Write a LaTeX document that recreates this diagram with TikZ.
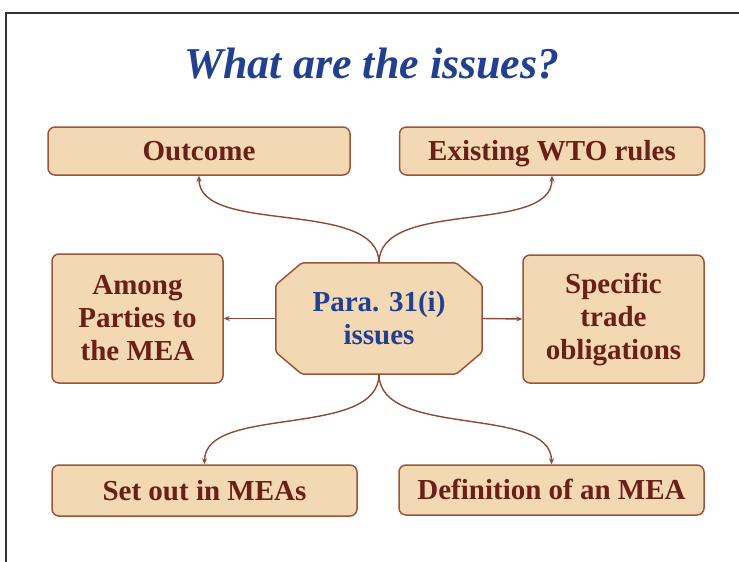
\documentclass[tikz,border=0pt]{standalone}
\usepackage{fontspec}
\setmainfont{Liberation Serif}
\usetikzlibrary{arrows.meta,calc,backgrounds}
\definecolor{boxfill}{HTML}{F3D8B4}
\definecolor{boxline}{HTML}{9A553A}
\definecolor{boxtext}{HTML}{6B2016}
\definecolor{titleblue}{HTML}{22408F}
\definecolor{connline}{HTML}{8A4A36}
\definecolor{framegray}{HTML}{333333}
\tikzset{
  box/.style={draw=boxline, line width=1.5pt, fill=boxfill, rounded corners=7pt,
    text=boxtext, font=\fontsize{29}{33}\selectfont\bfseries, align=center, inner sep=0pt},
  oneline/.style={text height=19pt, text depth=0pt},
  hub/.style={inner sep=0pt, text=titleblue, font=\fontsize{29}{33}\selectfont\bfseries,
    align=center, minimum width=206pt, minimum height=111pt},
  hubshape/.style={draw=boxline, line width=1.5pt, fill=boxfill, rounded corners=2pt},
  conn/.style={draw=connline, line width=1.4pt, -{Stealth[length=6pt,width=5pt]}},
  frameline/.style={draw=framegray, line width=1.5pt}
}
\begin{document}
\begin{tikzpicture}[x=1pt,y=-1pt]
\useasboundingbox (0,0) rectangle (739,562);
% frame
\coordinate (f1) at (6,562);
\coordinate (f2) at (6,13);
\coordinate (f3) at (739,13);
\draw[frameline] (f1) -- (f2) -- (f3);
% title
\node[text=titleblue, font=\fontsize{44}{48}\selectfont\bfseries\itshape] (title) at (372,64) {What are the issues?};
% boxes
\node[box, oneline, minimum width=302pt, minimum height=48pt] (o) at (199,151) {Outcome};
\node[box, oneline, minimum width=305pt, minimum height=48pt] (e) at (552,151) {Existing WTO rules};
\node[box, minimum width=171pt, minimum height=129pt] (a) at (137.5,318.5) {Among\\Parties to\\the MEA};
\node[box, minimum width=181pt, minimum height=128pt] (s) at (613.5,319) {Specific\\trade\\obligations};
\node[box, oneline, minimum width=305pt, minimum height=51pt] (so) at (204.5,490.5) {Set out in MEAs};
\node[box, oneline, minimum width=305pt, minimum height=50pt] (d) at (551.5,490) {Definition of an MEA};
% hub
\node[hub] (c) at (379,318.5) {Para. 31(i)\\issues};
\begin{scope}[on background layer]
\draw[hubshape] ($(c.north west)+(26,0)$) -- ($(c.north east)+(-26,0)$) -- ($(c.north east)+(0,22)$)
  -- ($(c.south east)+(0,-22)$) -- ($(c.south east)+(-26,0)$) -- ($(c.south west)+(26,0)$)
  -- ($(c.south west)+(0,-22)$) -- ($(c.north west)+(0,22)$) -- cycle;
\end{scope}
% connectors
\draw[conn] (c.north) .. controls +(0,-65) and +(0,60) .. (o.south);
\draw[conn] (c.north) .. controls +(0,-65) and +(0,60) .. (e.south);
\draw[conn] (c.south) .. controls +(0,65) and +(0,-60) .. (so.north);
\draw[conn] (c.south) .. controls +(0,65) and +(0,-60) .. (d.north);
\draw[conn] (c.west) -- (a.east);
\draw[conn] (c.east) -- (s.west);
\end{tikzpicture}
\end{document}
